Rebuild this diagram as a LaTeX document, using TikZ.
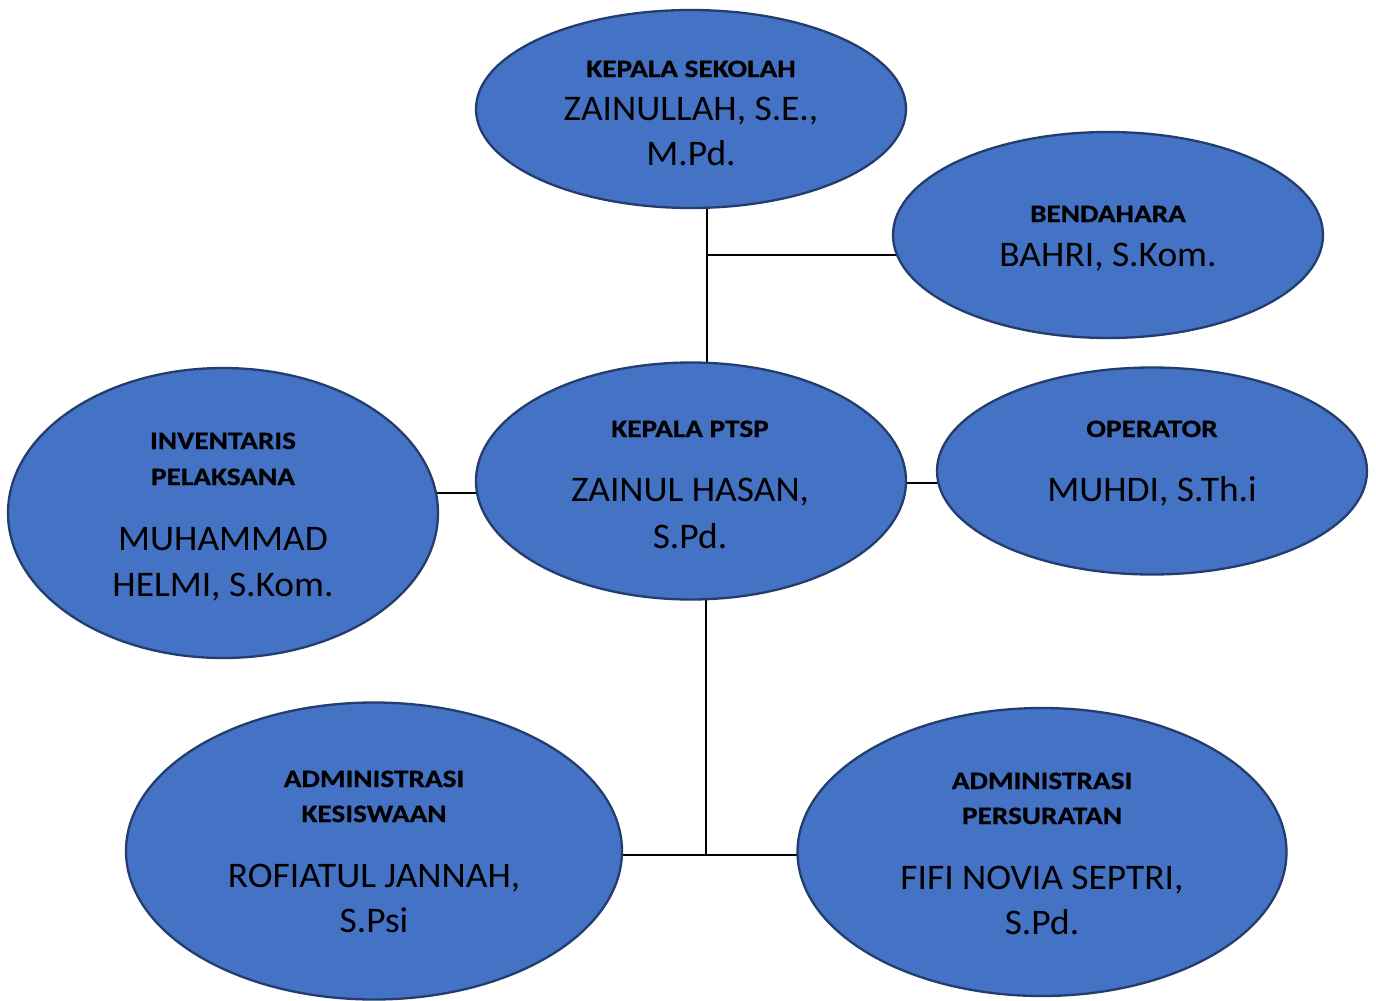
\documentclass[tikz,border=0pt]{standalone}
\usepackage{fontspec}
\setmainfont{Carlito}[FakeStretch=1.04, BoldFeatures={FakeStretch=1.17, FakeBold=0.6}]
\usetikzlibrary{shapes.geometric,backgrounds}
\definecolor{boxfill}{HTML}{4472C4}
\definecolor{boxedge}{HTML}{223D6E}
\tikzset{
  oval/.style={ellipse, draw=boxedge, fill=boxfill, line width=2.3pt, inner sep=0pt},
  ttl/.style={anchor=base, inner sep=0pt, font=\fontsize{25}{30}\selectfont\bfseries},
  nm/.style={anchor=base, inner sep=0pt, font=\fontsize{36}{42}\selectfont},
  conn/.style={draw=black, line width=2.6pt}
}
\begin{document}
\begin{tikzpicture}[x=1pt,y=-1pt]
\useasboundingbox (0,0) rectangle (1376,1001);
% ellipses
\node[oval, minimum width=430pt, minimum height=198pt] (ks) at (691,109) {};
\node[oval, minimum width=430pt, minimum height=206pt] (bd) at (1108,235) {};
\node[oval, minimum width=430pt, minimum height=237pt] (pt) at (691,481) {};
\node[oval, minimum width=430pt, minimum height=290pt] (iv) at (223,513) {};
\node[oval, minimum width=430pt, minimum height=207pt] (op) at (1152,471) {};
\node[oval, minimum width=496pt, minimum height=297pt] (ak) at (374,851) {};
\node[oval, minimum width=489pt, minimum height=288pt] (ap) at (1042,852) {};
% junctions
\coordinate (j1) at (707,255);
\coordinate (j2) at (706,855);
\begin{scope}[on background layer]
  \draw[conn] (ks.center -| j1) -- (pt.center -| j1);
  \draw[conn] (j1) -- (bd.center |- j1);
  \draw[conn] (iv.center |- 0,493) -- (pt.center |- 0,493);
  \draw[conn] (pt.center |- 0,483) -- (op.center |- 0,483);
  \draw[conn] (pt.center -| j2) -- (j2);
  \draw[conn] (ak.center |- j2) -- (ap.center |- j2);
\end{scope}
% texts
\node[ttl] (ks1) at (691,77) {KEPALA SEKOLAH};
\node[nm] (ks2) at (691,120) {ZAINULLAH, S.E.,};
\node[nm] (ks3) at (691,165) {M.Pd.};
\node[ttl] (bd1) at (1108,222) {BENDAHARA};
\node[nm] (bd2) at (1108,266) {BAHRI, S.Kom.};
\node[ttl] (pt1) at (690,437) {KEPALA PTSP};
\node[nm] (pt2) at (690,501) {ZAINUL HASAN,};
\node[nm] (pt3) at (690,548) {S.Pd.};
\node[ttl] (iv1) at (223,449) {INVENTARIS};
\node[ttl] (iv2) at (223,485) {PELAKSANA};
\node[nm] (iv3) at (223,550) {MUHAMMAD};
\node[nm] (iv4) at (223,596) {HELMI, S.Kom.};
\node[ttl] (op1) at (1152,437) {OPERATOR};
\node[nm] (op2) at (1152,501) {MUHDI, S.Th.i};
\node[ttl] (ak1) at (374,787) {ADMINISTRASI};
\node[ttl] (ak2) at (374,822) {KESISWAAN};
\node[nm] (ak3) at (374,887) {ROFIATUL JANNAH,};
\node[nm] (ak4) at (374,932) {S.Psi};
\node[ttl] (ap1) at (1042,789) {ADMINISTRASI};
\node[ttl] (ap2) at (1042,824) {PERSURATAN};
\node[nm] (ap3) at (1042,889) {FIFI NOVIA SEPTRI,};
\node[nm] (ap4) at (1042,934) {S.Pd.};
\end{tikzpicture}
\end{document}
